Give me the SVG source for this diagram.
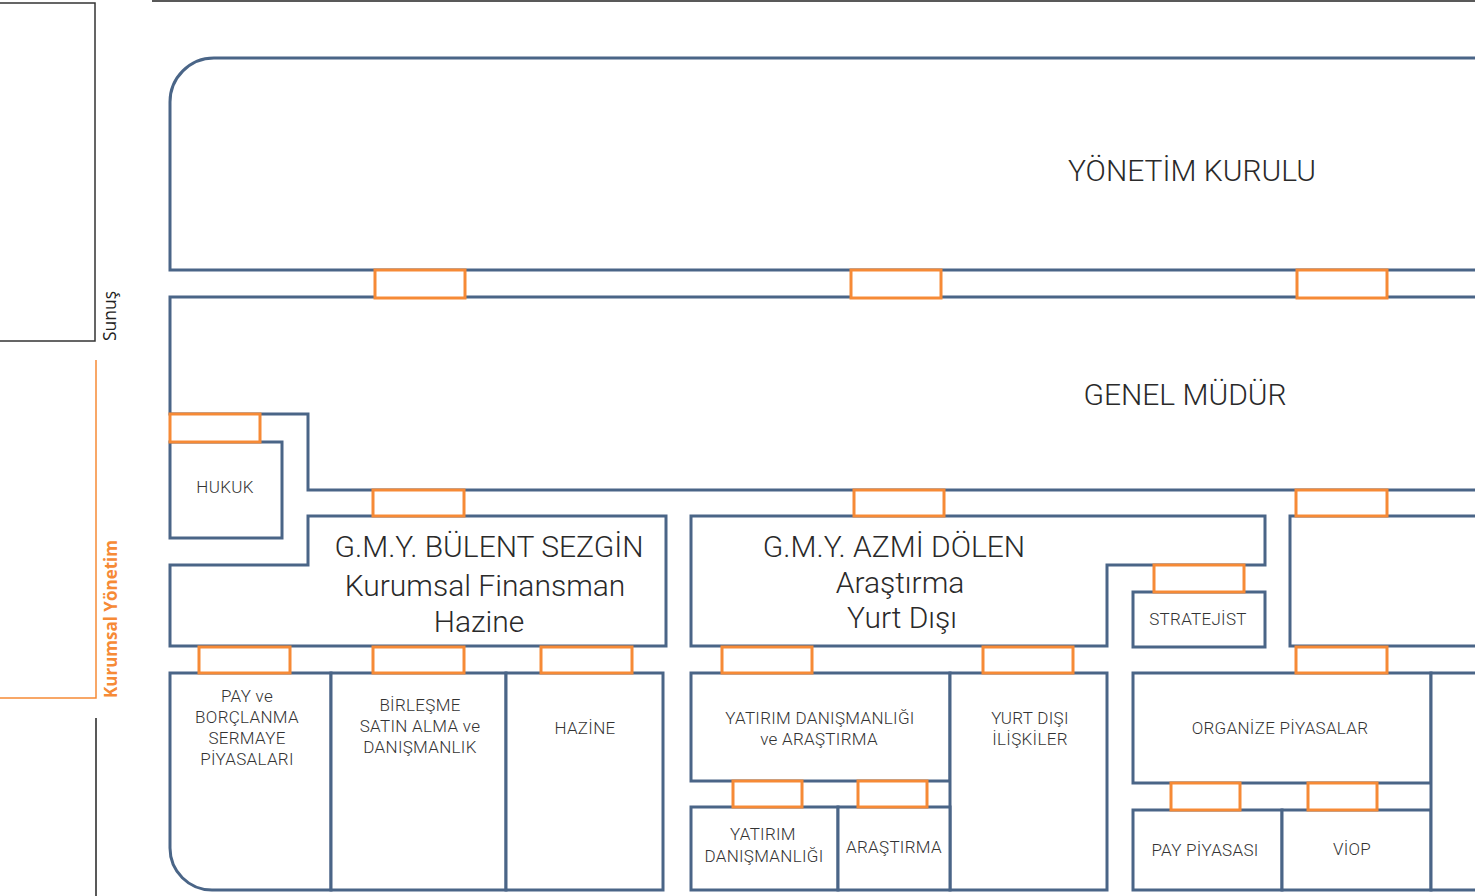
<svg xmlns="http://www.w3.org/2000/svg" width="1475" height="896" viewBox="0 0 1475 896">
<style>
.b{fill:#fff;stroke:#4a6587;stroke-width:3;stroke-linejoin:miter}
.o{fill:#fff;stroke:#f68a36;stroke-width:3}
.t{font-family:Roboto,"Open Sans",sans-serif;font-weight:300;fill:#2a2a2a;text-anchor:middle}
.big{font-size:30px}
.mid{font-size:30px}
.sm{font-size:17px;font-weight:300;fill:#333;letter-spacing:0.3px}
</style>
<rect width="1475" height="896" fill="#fff"/>
<g id="frame">
<rect x="-2" y="3" width="97" height="338" fill="none" stroke="#333" stroke-width="1.5"/>
<line x1="152" y1="1" x2="1475" y2="1" stroke="#222" stroke-width="1.5"/>
<path d="M96 360 L96 698 L0 698" fill="none" stroke="#f68a36" stroke-width="1.5"/>
<line x1="96" y1="718" x2="96" y2="896" stroke="#222" stroke-width="1.5"/>
<text transform="translate(116,341) rotate(-90)" font-family="'Open Sans',sans-serif" font-size="17.5" fill="#222">Sunuş</text>
<text transform="translate(117,698) rotate(-90)" font-family="'Open Sans',sans-serif" font-size="17" font-weight="700" fill="#f68a36">Kurumsal Yönetim</text>
</g>
<g id="yonetim-kurulu">
<path class="b" d="M1480 58 L214 58 A44 44 0 0 0 170 102 L170 270 L1480 270"/>
<text class="t big" x="1192" y="181">YÖNETİM KURULU</text>
</g>
<g id="genel-mudur">
<path class="b" d="M1480 297 L170 297 L170 414 L308 414 L308 490 L1480 490"/>
<text class="t big" x="1185" y="405">GENEL MÜDÜR</text>
</g>
<g id="hukuk">
<rect class="b" x="170" y="442" width="112" height="96"/>
<text class="t sm" x="225" y="493">HUKUK</text>
</g>
<g id="gmy-bulent">
<path class="b" d="M308 516 L666 516 L666 646 L170 646 L170 565 L308 565 Z"/>
<text class="t big" x="489" y="557">G.M.Y. BÜLENT SEZGİN</text>
<text class="t mid" x="485" y="596">Kurumsal Finansman</text>
<text class="t mid" x="479" y="632">Hazine</text>
</g>
<g id="pay-borclanma">
<path class="b" d="M170 673 L331 673 L331 890 L212 890 A42 42 0 0 1 170 848 Z"/>
<text class="t sm" x="247" y="702">PAY ve</text>
<text class="t sm" x="247" y="723">BORÇLANMA</text>
<text class="t sm" x="247" y="744">SERMAYE</text>
<text class="t sm" x="247" y="765">PİYASALARI</text>
</g>
<g id="birlesme">
<rect class="b" x="331" y="673" width="175" height="217"/>
<text class="t sm" x="420" y="711">BİRLEŞME</text>
<text class="t sm" x="420" y="732">SATIN ALMA ve</text>
<text class="t sm" x="420" y="753">DANIŞMANLIK</text>
</g>
<g id="hazine">
<rect class="b" x="506" y="673" width="157" height="217"/>
<text class="t sm" x="585" y="734">HAZİNE</text>
</g>
<g id="gmy-azmi">
<path class="b" d="M691 516 L1265 516 L1265 565 L1107 565 L1107 646 L691 646 Z"/>
<text class="t big" x="894" y="557">G.M.Y. AZMİ DÖLEN</text>
<text class="t mid" x="900" y="593">Araştırma</text>
<text class="t mid" x="902" y="628">Yurt Dışı</text>
</g>
<g id="stratejist">
<rect class="b" x="1133" y="592" width="132" height="55"/>
<text class="t sm" x="1198" y="625">STRATEJİST</text>
</g>
<g id="right-gmy">
<path class="b" d="M1480 516 L1290 516 L1290 646 L1480 646"/>
</g>
<g id="yatirim-arastirma">
<rect class="b" x="691" y="673" width="259" height="108"/>
<text class="t sm" x="820" y="724">YATIRIM DANIŞMANLIĞI</text>
<text class="t sm" x="819" y="745">ve ARAŞTIRMA</text>
</g>
<g id="yurt-disi">
<rect class="b" x="950" y="673" width="157" height="217"/>
<text class="t sm" x="1030" y="724">YURT DIŞI</text>
<text class="t sm" x="1030" y="745">İLİŞKİLER</text>
</g>
<g id="yatirim-danismanligi">
<rect class="b" x="691" y="807" width="147" height="83"/>
<text class="t sm" x="763" y="840">YATIRIM</text>
<text class="t sm" x="764" y="862">DANIŞMANLIĞI</text>
</g>
<g id="arastirma">
<rect class="b" x="838" y="807" width="112" height="83"/>
<text class="t sm" x="894" y="853">ARAŞTIRMA</text>
</g>
<g id="organize">
<rect class="b" x="1133" y="673" width="298" height="110"/>
<text class="t sm" x="1280" y="734">ORGANİZE PİYASALAR</text>
</g>
<g id="pay-piyasasi">
<rect class="b" x="1133" y="810" width="149" height="80"/>
<text class="t sm" x="1205" y="856">PAY PİYASASI</text>
</g>
<g id="viop">
<rect class="b" x="1282" y="810" width="149" height="80"/>
<text class="t sm" x="1352" y="855">VİOP</text>
</g>
<g id="right-bottom">
<path class="b" d="M1480 673 L1431 673 L1431 890 L1480 890"/>
</g>
<g id="connectors">
<rect class="o" x="375" y="270" width="90" height="28"/>
<rect class="o" x="851" y="270" width="90" height="28"/>
<rect class="o" x="1297" y="270" width="90" height="28"/>
<rect class="o" x="170" y="414" width="90" height="28"/>
<rect class="o" x="373" y="490" width="91" height="26"/>
<rect class="o" x="854" y="490" width="90" height="26"/>
<rect class="o" x="1296" y="490" width="91" height="26"/>
<rect class="o" x="1154" y="565" width="90" height="27"/>
<rect class="o" x="199" y="647" width="91" height="26"/>
<rect class="o" x="373" y="647" width="91" height="26"/>
<rect class="o" x="541" y="647" width="91" height="26"/>
<rect class="o" x="722" y="647" width="90" height="26"/>
<rect class="o" x="983" y="647" width="90" height="26"/>
<rect class="o" x="1296" y="647" width="91" height="26"/>
<rect class="o" x="733" y="781" width="69" height="26"/>
<rect class="o" x="858" y="781" width="69" height="26"/>
<rect class="o" x="1171" y="783" width="69" height="27"/>
<rect class="o" x="1308" y="783" width="69" height="27"/>
</g>
</svg>
